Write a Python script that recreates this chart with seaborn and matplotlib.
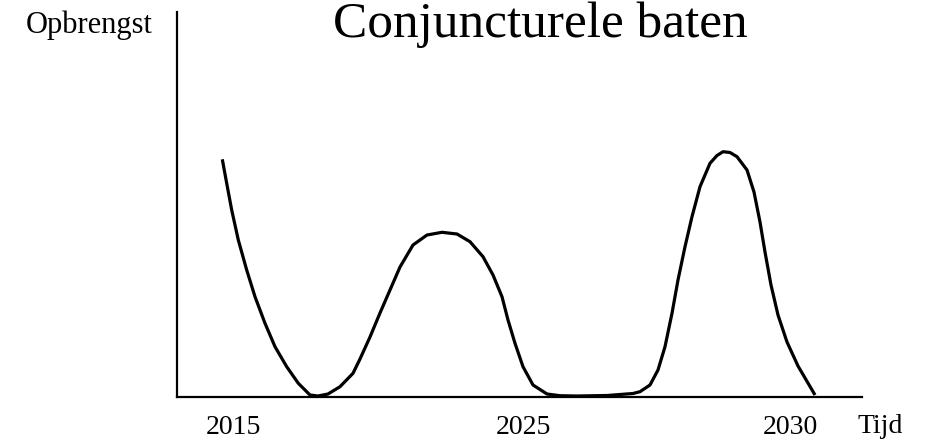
import matplotlib
matplotlib.use("Agg")
import matplotlib.pyplot as plt
import seaborn as sns
import pandas as pd

# curve (x = time units from the y axis, y = revenue)
tijd = [45.3, 49.7, 54.7, 61.3, 69.7, 78, 88, 98, 109.7, 121.3, 133, 141, 151,
        163, 176, 183, 193, 203, 213, 223, 236, 250, 265, 280, 293, 306, 316,
        325, 331, 338, 346, 356, 370, 383, 400, 430, 456, 463, 473, 481, 488,
        495, 501, 508, 515, 523, 533, 540, 546, 553, 560, 570, 577, 583, 588,
        594, 601, 610, 621, 638]
opbrengst = [237.7, 213.7, 187, 157, 127, 100.3, 73.7, 50.3, 30.3, 13.7, 2, 1,
             3, 10.3, 23.7, 38, 60, 84, 107, 130, 152, 162, 164.7, 163, 155.3,
             140.3, 122, 100.3, 77, 53.7, 30.3, 12, 3, 1.3, 1, 1.5, 3.5, 5.3,
             12, 27, 50.3, 83.7, 117, 150.3, 180.3, 210.3, 233.7, 241.5, 245.3,
             244.5, 240.3, 227, 205, 175, 145, 112, 82, 55, 31, 2]

tick_pos = [56, 346, 613]
tick_labels = ["2015", "2025", "2030"]

df = pd.DataFrame({"tijd": tijd, "opbrengst": opbrengst})

sns.set_style("white")
plt.rcParams["font.family"] = ["Liberation Serif", "DejaVu Serif"]
plt.rcParams["text.color"] = "black"
plt.rcParams["xtick.color"] = "black"

fig = plt.figure(figsize=(9.3, 4.4), dpi=100)
ax = fig.add_axes([177 / 930, 43 / 440, 685 / 930, 385 / 440])

sns.lineplot(data=df, x="tijd", y="opbrengst", sort=False, estimator=None,
             color="black", linewidth=2.3, solid_joinstyle="round",
             solid_capstyle="butt", ax=ax)

ax.set_xlim(0, 685)
ax.set_ylim(0, 385)
ax.set_xticks(tick_pos)
ax.set_xticklabels(tick_labels, fontsize=20)
ax.set_yticks([])
ax.tick_params(axis="x", length=0, pad=13)
ax.set_xlabel("")
ax.set_ylabel("")
sns.despine(ax=ax)
for s in ["left", "bottom"]:
    ax.spines[s].set_linewidth(1.6)
    ax.spines[s].set_color("black")

fig.text(880 / 930, 1 - 433 / 440, "Tijd", fontsize=20, ha="center", va="baseline")
fig.text(153 / 930, 1 - 33 / 440, "Opbrengst", fontsize=22, ha="right", va="baseline")
fig.text(540 / 930, 1 - 37 / 440, "Conjuncturele baten", fontsize=37,
         ha="center", va="baseline")

fig.savefig("out.png", dpi=100)
